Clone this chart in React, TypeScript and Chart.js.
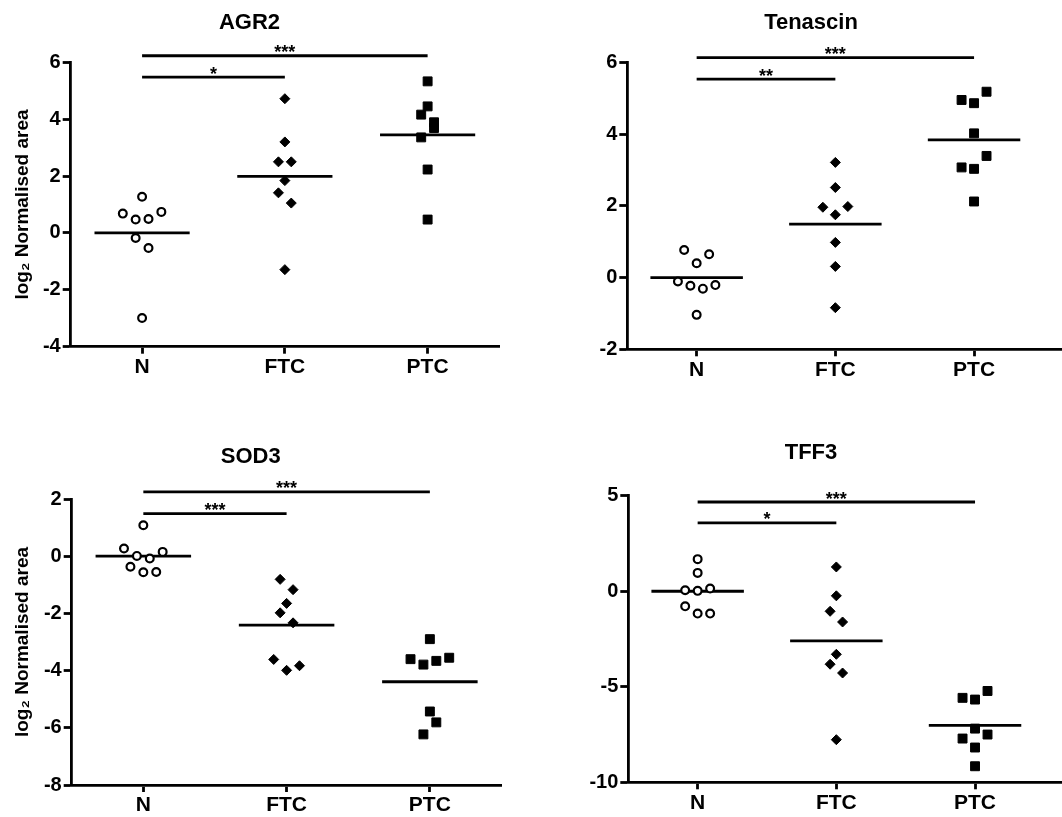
import React, { useEffect, useRef } from 'react';
import { Chart, registerables } from 'chart.js';

Chart.register(...registerables);

const FONT = "'Liberation Sans', Arial, Helvetica, sans-serif";

// ---------- data ----------
const categories = ['N', 'FTC', 'PTC'];
const yAxisTitle = 'log₂ Normalised area';

// AGR2
const agr2N = [1.27, 0.68, 0.47, 0.49, 0.74, -0.18, -0.53, -2.99];
const agr2NSlots = [0, -3, -1, 1, 3, -1, 1, 0];
const agr2FTC = [4.72, 3.2, 2.5, 2.5, 1.84, 1.41, 1.05, -1.29];
const agr2FTCSlots = [0, 0, -1, 1, 0, -1, 1, 0];
const agr2PTC = [5.33, 4.45, 4.16, 3.89, 3.69, 3.36, 2.23, 0.47];
const agr2PTCSlots = [0, 0, -1, 1, 1, -1, 0, 0];
const agr2Means = [0, 1.99, 3.45];
const agr2SigLevels = [5.48, 6.23];
const agr2SigLabels = ['*', '***'];
const agr2YRange = [-4, 6, 2];

// Tenascin
const tenN = [0.77, 0.65, 0.4, -0.11, -0.23, -0.31, -0.21, -1.04];
const tenNSlots = [-2, 2, 0, -3, -1, 1, 3, 0];
const tenFTC = [3.21, 2.51, 1.96, 1.98, 1.75, 0.98, 0.31, -0.84];
const tenFTCSlots = [0, 0, -2, 2, 0, 0, 0, 0];
const tenPTC = [5.18, 4.95, 4.86, 4.02, 3.39, 3.07, 3.03, 2.12];
const tenPTCSlots = [2, -2, 0, 0, 2, -2, 0, 0];
const tenMeans = [0, 1.49, 3.84];
const tenSigLevels = [5.53, 6.13];
const tenSigLabels = ['**', '***'];
const tenYRange = [-2, 6, 2];

// SOD3
const sodN = [1.08, 0.27, 0.15, 0.01, -0.08, -0.37, -0.56, -0.55];
const sodNSlots = [0, -3, 3, -1, 1, -2, 0, 2];
const sodFTC = [-0.81, -1.17, -1.65, -1.98, -2.33, -3.61, -3.83, -3.99];
const sodFTCSlots = [-1, 1, 0, -1, 1, -2, 2, 0];
const sodPTC = [-2.9, -3.6, -3.79, -3.66, -3.55, -5.43, -5.81, -6.23];
const sodPTCSlots = [0, -3, -1, 1, 3, 0, 1, -1];
const sodMeans = [0, -2.41, -4.39];
const sodSigLevels = [1.49, 2.25];
const sodSigLabels = ['***', '***'];
const sodYRange = [-8, 2, 2];

// TFF3
const tffN = [1.68, 0.96, 0.05, 0.02, 0.14, -0.79, -1.17, -1.17];
const tffNSlots = [0, 0, -2, 0, 2, -2, 0, 2];
const tffFTC = [1.27, -0.24, -1.05, -1.61, -3.3, -3.82, -4.28, -7.77];
const tffFTCSlots = [0, 0, -1, 1, 0, -1, 1, 0];
const tffPTC = [-5.22, -5.58, -5.67, -7.19, -7.5, -7.71, -8.18, -9.16];
const tffPTCSlots = [2, -2, 0, 0, 2, -2, 0, 0];
const tffMeans = [0, -2.6, -7.02];
const tffSigLevels = [3.58, 4.67];
const tffSigLabels = ['*', '***'];
const tffYRange = [-10, 5, 5];

const sigTargets = [1, 2];

// ---------- layout (positions only) ----------
const SLOT = 0.045; // jitter unit, in category widths
const MEAN_HALF = 1 / 3;

type PanelData = {
  title: string;
  groups: number[][];
  slots: number[][];
  means: number[];
  sigLevels: number[];
  sigLabels: string[];
  yRange: number[];
  showYTitle: boolean;
};

type PanelBox = {
  left: number; top: number; w: number; h: number;
  areaLeft: number; areaRight: number; areaTop: number; areaBottom: number;
  titleY: number; xMax: number;
};

const panels: PanelData[] = [
  { title: 'AGR2', groups: [agr2N, agr2FTC, agr2PTC], slots: [agr2NSlots, agr2FTCSlots, agr2PTCSlots], means: agr2Means, sigLevels: agr2SigLevels, sigLabels: agr2SigLabels, yRange: agr2YRange, showYTitle: true },
  { title: 'Tenascin', groups: [tenN, tenFTC, tenPTC], slots: [tenNSlots, tenFTCSlots, tenPTCSlots], means: tenMeans, sigLevels: tenSigLevels, sigLabels: tenSigLabels, yRange: tenYRange, showYTitle: false },
  { title: 'SOD3', groups: [sodN, sodFTC, sodPTC], slots: [sodNSlots, sodFTCSlots, sodPTCSlots], means: sodMeans, sigLevels: sodSigLevels, sigLabels: sodSigLabels, yRange: sodYRange, showYTitle: true },
  { title: 'TFF3', groups: [tffN, tffFTC, tffPTC], slots: [tffNSlots, tffFTCSlots, tffPTCSlots], means: tffMeans, sigLevels: tffSigLevels, sigLabels: tffSigLabels, yRange: tffYRange, showYTitle: false },
];

const boxes: PanelBox[] = [
  { left: 0, top: 0, w: 570, h: 410, areaLeft: 70.7, areaRight: 499, areaTop: 62.3, areaBottom: 346.7, titleY: 23, xMax: 2.5 },
  { left: 560, top: 0, w: 554, h: 410, areaLeft: 627.3, areaRight: 1062, areaTop: 62.3, areaBottom: 349.3, titleY: 22.5, xMax: 2.634 },
  { left: 0, top: 410, w: 574, h: 420, areaLeft: 71.7, areaRight: 501.5, areaTop: 499, areaBottom: 785, titleY: 456.7, xMax: 2.5 },
  { left: 560, top: 410, w: 554, h: 420, areaLeft: 628.3, areaRight: 1062, areaTop: 495.7, areaBottom: 782.3, titleY: 453.3, xMax: 2.627 },
];

const TITLE_SIZE = 22;
const TITLE_LH = TITLE_SIZE * 1.2;
const YTITLE_SIZE = 19;
const LINE_W = 2.8;

function buildConfig(p: PanelData, b: PanelBox): any {
  const styles = [
    { pointStyle: 'circle', pointRadius: 3.9, borderWidth: 2.2, backgroundColor: '#ffffff' },
    { pointStyle: 'rectRot', pointRadius: 5, borderWidth: 1, backgroundColor: '#000000' },
    { pointStyle: 'rect', pointRadius: 6.3, borderWidth: 1, backgroundColor: '#000000' },
  ];
  const scatterSets = p.groups.map((vals, gi) => ({
    type: 'scatter',
    label: categories[gi],
    data: vals.map((v, i) => ({ x: gi + p.slots[gi][i] * SLOT, y: v })),
    borderColor: '#000000',
    pointHoverRadius: styles[gi].pointRadius,
    ...styles[gi],
    order: 0,
  }));
  const meanSets = p.means.map((m, gi) => ({
    type: 'line',
    label: 'mean ' + categories[gi],
    data: [{ x: gi - MEAN_HALF, y: m }, { x: gi + MEAN_HALF, y: m }],
    borderColor: '#000000',
    borderWidth: LINE_W,
    pointRadius: 0,
    fill: false,
    order: 1,
  }));
  const sigSets = p.sigLevels.map((lvl, si) => ({
    type: 'line',
    label: 'sig ' + si,
    data: [{ x: 0, y: lvl }, { x: sigTargets[si], y: lvl }],
    borderColor: '#000000',
    borderWidth: LINE_W,
    pointRadius: 0,
    fill: false,
    clip: false,
    order: 1,
  }));

  const relTop = b.areaTop - b.top;
  const relTitle = b.titleY - b.top;
  const yWidth = b.areaLeft - b.left;
  const xHeight = b.h - (b.areaBottom - b.top);
  const padRight = b.w - (b.areaRight - b.left);

  const starPlugin = {
    id: 'stars',
    afterDatasetsDraw(chart: any) {
      const { ctx, scales } = chart;
      ctx.save();
      ctx.fillStyle = '#000000';
      ctx.font = `bold 18px ${FONT}`;
      ctx.textAlign = 'center';
      ctx.textBaseline = 'alphabetic';
      p.sigLevels.forEach((lvl, si) => {
        const xm = scales.x.getPixelForValue(sigTargets[si] / 2);
        const yp = scales.y.getPixelForValue(lvl);
        ctx.fillText(p.sigLabels[si], xm, yp + 2.5);
      });
      ctx.restore();
    },
  };

  return {
    type: 'scatter',
    data: { datasets: [...scatterSets, ...meanSets, ...sigSets] },
    plugins: [starPlugin],
    options: {
      responsive: false,
      animation: false,
      events: [],
      layout: { padding: { left: 0, top: 0, right: padRight, bottom: 0 } },
      plugins: {
        legend: { display: false },
        tooltip: { enabled: false },
        title: {
          display: true,
          text: p.title,
          color: '#000000',
          font: { family: FONT, size: TITLE_SIZE, weight: 'bold' },
          padding: { top: relTitle - TITLE_LH / 2, bottom: relTop - relTitle - TITLE_LH / 2 },
        },
      },
      scales: {
        x: {
          type: 'linear',
          min: -0.5,
          max: b.xMax,
          afterBuildTicks: (scale: any) => {
            scale.ticks = categories.map((_, i) => ({ value: i }));
          },
          afterFit: (scale: any) => {
            scale.height = xHeight;
          },
          ticks: {
            callback: (v: any) => categories[v] ?? '',
            color: '#000000',
            font: { family: FONT, size: 21, weight: 'bold' },
            padding: 1,
            maxRotation: 0,
            autoSkip: false,
          },
          grid: {
            display: true,
            drawOnChartArea: false,
            drawTicks: true,
            tickLength: 7,
            tickWidth: LINE_W,
            tickColor: '#000000',
          },
          border: { display: true, color: '#000000', width: LINE_W },
        },
        y: {
          type: 'linear',
          min: p.yRange[0],
          max: p.yRange[1],
          afterFit: (scale: any) => {
            scale.width = yWidth;
          },
          ticks: {
            stepSize: p.yRange[2],
            color: '#000000',
            font: { family: FONT, size: 20, weight: 'bold' },
            padding: 2,
          },
          grid: {
            display: true,
            drawOnChartArea: false,
            drawTicks: true,
            tickLength: 8,
            tickWidth: LINE_W,
            tickColor: '#000000',
          },
          border: { display: true, color: '#000000', width: LINE_W },
          title: {
            display: p.showYTitle,
            text: yAxisTitle,
            color: '#000000',
            font: { family: FONT, size: YTITLE_SIZE, weight: 'bold' },
            padding: { top: 11.6, bottom: 0 },
          },
        },
      },
    },
  };
}

function Panel({ p, b }: { p: PanelData; b: PanelBox }) {
  const ref = useRef<HTMLCanvasElement | null>(null);
  useEffect(() => {
    if (!ref.current) return;
    const chart = new Chart(ref.current, buildConfig(p, b));
    return () => chart.destroy();
  }, [p, b]);
  return (
    <canvas
      ref={ref}
      width={b.w}
      height={b.h}
      style={{ position: 'absolute', left: b.left, top: b.top, width: b.w, height: b.h }}
    />
  );
}

export default function App() {
  return (
    <div
      style={{
        position: 'fixed',
        left: 0,
        top: 0,
        width: 1062,
        height: 817,
        overflow: 'hidden',
        background: '#ffffff',
      }}
    >
      {panels.map((p, i) => (
        <Panel key={p.title} p={p} b={boxes[i]} />
      ))}
    </div>
  );
}
